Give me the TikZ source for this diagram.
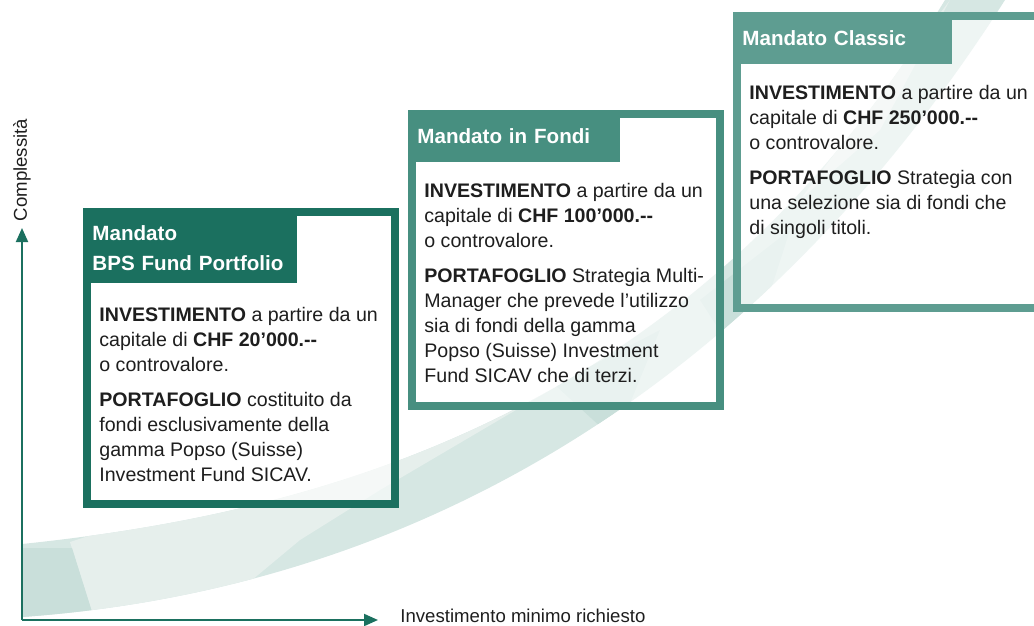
\documentclass[tikz,border=0pt]{standalone}
\usepackage{fontspec}
\setmainfont{Liberation Sans}
\definecolor{mandatodark}{RGB}{27,112,95}
\definecolor{mandatomid}{RGB}{71,143,128}
\definecolor{mandatolight}{RGB}{94,157,145}
\definecolor{ribbonbase}{RGB}{214,231,227}
\definecolor{ribbonlight}{RGB}{230,239,236}
\definecolor{ribbondark}{RGB}{201,223,218}
\definecolor{testo}{RGB}{30,30,30}
\usetikzlibrary{arrows.meta,positioning}

\begin{document}
\begin{tikzpicture}[x=0.5pt,y=-0.5pt,
  mandbox/.style={draw=#1, line width=4pt, fill=white, fill opacity=0.6,
    minimum width=154pt, minimum height=146pt, inner sep=0pt},
  mandtitle/.style={fill=#1, text=white, anchor=north west, inner sep=0pt,
    inner xsep=4.5pt, align=left, font=\fontsize{10.3}{15}\selectfont\bfseries},
  mandtext/.style={text=testo, inner sep=0pt, align=left,
    font=\fontsize{9.8}{12.5}\selectfont},
  axis/.style={draw=mandatodark, line width=1pt, -{Triangle[length=7pt,width=6pt]}},
  axislabel/.style={text=testo, inner sep=0pt, font=\fontsize{9.3}{11}\selectfont}]
  \useasboundingbox (0,0) rectangle (1034,626);
  \clip (0,0) rectangle (1034,626);

  % ribbon
  \begin{scope}
    \clip (22,544) .. controls (350,510) and (700,400) .. (945,0) -- (1005,0)
      .. controls (750,400) and (400,590) .. (22,617) -- cycle;
    \fill[ribbonbase] (0,0) rectangle (1034,626);
    \fill[ribbonlight] (70,542) -- (567,380) -- (380,490) -- (300,540) -- (240,590) -- (93,615) -- cycle;
    \fill[ribbondark] (22,548) -- (72,548) -- (93,615) -- (22,620) -- cycle;
    \fill[ribbondark] (555,385) -- (660,330) -- (615,440) -- cycle;
    \fill[ribbondark] (700,300) -- (790,230) -- (745,370) -- cycle;
    \fill[ribbonlight] (800,200) -- (950,0) -- (880,130) -- cycle;
  \end{scope}

  \node[mandbox=mandatodark] (box1) at (241,357.5) {};
  \node[mandbox=mandatomid] (box2) at (566,260) {};
  \node[mandbox=mandatolight] (box3) at (891,162) {};

  \node[mandtitle=mandatodark, text width=98pt, text height=10.7pt, minimum height=37.5pt] (title1)
    at (box1.north west) {Mandato\\BPS Fund Portfolio};
  \node[mandtitle=mandatomid, text width=97pt, minimum height=26pt] (title2)
    at (box2.north west) {Mandato in Fondi};
  \node[mandtitle=mandatolight, text width=100.5pt, minimum height=26pt] (title3)
    at (box3.north west) {Mandato Classic};

  \node[mandtext, below right=12pt and 8pt of title1.south west] (text1)
    {\textbf{INVESTIMENTO} a partire da un\\
     capitale di \textbf{CHF 20’000.{-}{-}}\\
     o controvalore.\\[5pt]
     \textbf{PORTAFOGLIO} costituito da\\
     fondi esclusivamente della\\
     gamma Popso (Suisse)\\
     Investment Fund SICAV.};
  \node[mandtext, below right=10pt and 8pt of title2.south west] (text2)
    {\textbf{INVESTIMENTO} a partire da un\\
     capitale di \textbf{CHF 100’000.{-}{-}}\\
     o controvalore.\\[5pt]
     \textbf{PORTAFOGLIO} Strategia Multi-\\
     Manager che prevede l’utilizzo\\
     sia di fondi della gamma\\
     Popso (Suisse) Investment\\
     Fund SICAV che di terzi.};
  \node[mandtext, below right=10pt and 8pt of title3.south west] (text3)
    {\textbf{INVESTIMENTO} a partire da un\\
     capitale di \textbf{CHF 250’000.{-}{-}}\\
     o controvalore.\\[5pt]
     \textbf{PORTAFOGLIO} Strategia con\\
     una selezione sia di fondi che\\
     di singoli titoli.};

  % axes
  \coordinate (origin) at (22,620);
  \coordinate (ytip) at (22,228);
  \coordinate (xtip) at (378,620);
  \draw[axis] (origin) -- (ytip);
  \draw[axis] (origin) -- (xtip);
  \node[axislabel, rotate=90] (ylabel) at (22,170) {Complessità};
  \node[axislabel, anchor=west] (xlabel) at (400,616) {Investimento minimo richiesto};
\end{tikzpicture}
\end{document}
